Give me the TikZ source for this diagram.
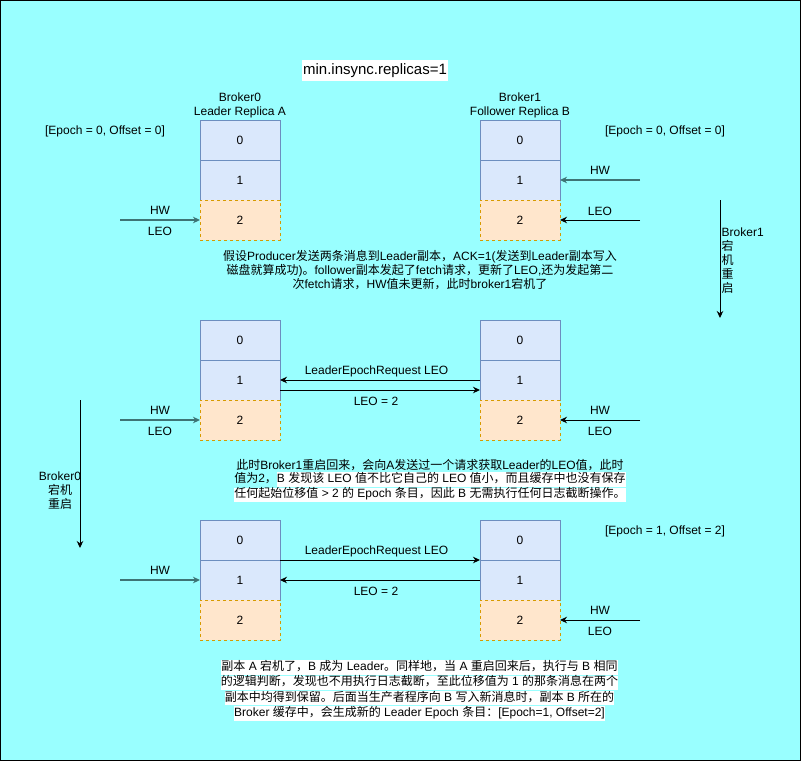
\documentclass[tikz,border=0pt]{standalone}
\usepackage{fontspec}
\setmainfont{Liberation Sans}
\newfontfamily\cjk{Noto Sans CJK SC}
\usepackage{xcolor}
\usetikzlibrary{arrows.meta}

\definecolor{bgcyan}{HTML}{99FFFF}
\definecolor{cellblue}{HTML}{DAE8FC}
\definecolor{cellblueline}{HTML}{6C8EBF}
\definecolor{cellorange}{HTML}{FFE6CC}
\definecolor{cellorangeline}{HTML}{D79B00}
\definecolor{hwteal}{HTML}{3E7475}

% Chinese runs are set in the CJK font, the rest in Liberation Sans
\XeTeXinterchartokenstate=1
\newXeTeXintercharclass\cjkclass
\newcount\cjkcnt
\def\cjkrange#1#2{\cjkcnt=#1 \loop\XeTeXcharclass\cjkcnt=\cjkclass
  \advance\cjkcnt by 1 \ifnum\cjkcnt<#2 \repeat}
\cjkrange{"3000}{"3040}
\cjkrange{"4E00}{"A000}
\cjkrange{"FF00}{"FFF0}
\XeTeXinterchartoks 0 \cjkclass = {\cjk}
\XeTeXinterchartoks 4095 \cjkclass = {\cjk}
\XeTeXinterchartoks \cjkclass 0 = {\rmfamily}
\XeTeXinterchartoks \cjkclass 4095 = {\rmfamily}

\newcommand\hl[1]{{\setlength\fboxsep{0pt}\colorbox{white}{\strut #1}}}

\begin{document}
\begin{tikzpicture}[x=1pt,y=-1pt,
    font=\fontsize{12}{14}\selectfont,
    >={Stealth[length=7pt,width=6.5pt]},
    cell/.style={draw=cellblueline, fill=cellblue, minimum width=80pt, minimum height=40pt, inner sep=0pt, outer sep=0pt},
    newcell/.style={draw=cellorangeline, fill=cellorange, dash pattern=on 3pt off 3pt, minimum width=80pt, minimum height=40pt, inner sep=0pt, outer sep=0pt},
    hwline/.style={draw=hwteal, line width=1.2pt, ->},
    leoline/.style={draw=black, line width=1pt, ->},
    note/.style={align=center, inner sep=0pt}]
    \fill[bgcyan] (0,0) rectangle (801,761);
    \draw[line width=1pt] (0.5,0.5) rectangle (800.5,760.5);
    \useasboundingbox (0,0) rectangle (801,761);

    \node[fill=white, inner sep=1pt, minimum height=21pt, font=\fontsize{15}{18}\selectfont] (minisr) at (375,70.5) {min.insync.replicas=1};

    \node[note] (titleA) at (240,105) {Broker0\\Leader Replica A};
    \node[note] (titleB) at (520,105) {Broker1\\Follower Replica B};
    \node (epochA) at (105,131) {[Epoch = 0, Offset = 0]};
    \node (epochB) at (665,131) {[Epoch = 0, Offset = 0]};

    % before broker1 goes down
    \node[cell] (a10) at (240,140) {0};
    \node[cell] (a11) at (240,180) {1};
    \node[newcell] (a12) at (240,220) {2};
    \node[cell] (b10) at (520,140) {0};
    \node[cell] (b11) at (520,180) {1};
    \node[newcell] (b12) at (520,220) {2};

    \coordinate (hwA1) at (120,220);
    \coordinate (hwB1) at (640,180);
    \coordinate (leoB1) at (640,220);
    \draw[hwline] (hwA1) -- (a12.west) node[midway,yshift=10pt]{HW} node[midway,yshift=-11pt]{LEO};
    \draw[hwline] (hwB1) -- (b11.east) node[midway,yshift=10pt]{HW};
    \draw[leoline] (leoB1) -- (b12.east) node[midway,yshift=9pt]{LEO};

    \coordinate (downB1s) at (720,200);
    \coordinate (downB1e) at (720,318);
    \draw[leoline] (downB1s) -- (downB1e);
    \node[align=left, anchor=west, inner sep=0pt] (downB1txt) at (721.5,261) {Broker1\\宕\\机\\重\\启};

    \node[note] (story1) at (420,270) {假设Producer发送两条消息到Leader副本，ACK=1(发送到Leader副本写入\\
      磁盘就算成功)。follower副本发起了fetch请求，更新了LEO,还为发起第二\\
      次fetch请求，HW值未更新，此时broker1宕机了};

    % broker1 back again
    \node[cell] (a20) at (240,340) {0};
    \node[cell] (a21) at (240,380) {1};
    \node[newcell] (a22) at (240,420) {2};
    \node[cell] (b20) at (520,340) {0};
    \node[cell] (b21) at (520,380) {1};
    \node[newcell] (b22) at (520,420) {2};

    \draw[leoline] (b21.west) -- (a21.east) node[midway,yshift=9pt,xshift=-3.5pt]{LeaderEpochRequest LEO};
    \draw[leoline] ([yshift=-10pt]a21.east) -- ([yshift=-10pt]b21.west) node[midway,yshift=-11pt,xshift=-4pt]{LEO = 2};

    \coordinate (hwA2) at (120,420);
    \coordinate (hwB2) at (640,420);
    \draw[hwline] (hwA2) -- (a22.west) node[midway,yshift=10pt]{HW} node[midway,yshift=-11pt]{LEO};
    \draw[leoline] (hwB2) -- (b22.east) node[midway,yshift=10pt]{HW} node[midway,yshift=-11pt]{LEO};

    \coordinate (downA0s) at (80,400);
    \coordinate (downA0e) at (80,548);
    \draw[leoline] (downA0s) -- (downA0e);
    \node[note] (downA0txt) at (60,491) {Broker0\\宕机\\重启};

    \node[note, font=\fontsize{12}{13.3}\selectfont] (story2) at (430,480.5) {此时Broker1重启回来，会向A发送过一个请求获取Leader的LEO值，此时\\
      值为2，\hl{B 发现该 LEO 值不比它自己的 LEO 值小，而且缓存中也没有保存}\\
      \hl{任何起始位移值 > 2 的 Epoch 条目，因此 B 无需执行任何日志截断操作。}};

    % broker0 down, B is leader
    \node[cell] (a30) at (240,540) {0};
    \node[cell] (a31) at (240,580) {1};
    \node[newcell] (a32) at (240,620) {2};
    \node[cell] (b30) at (520,540) {0};
    \node[cell] (b31) at (520,580) {1};
    \node[newcell] (b32) at (520,620) {2};
    \node (epochB3) at (665,531) {[Epoch = 1, Offset = 2]};

    \draw[leoline] (a30.south east) -- (b30.south west) node[midway,yshift=9pt,xshift=-3.5pt]{LeaderEpochRequest LEO};
    \draw[leoline] (b31.west) -- (a31.east) node[midway,yshift=-11pt,xshift=-4pt]{LEO = 2};

    \coordinate (hwA3) at (120,580);
    \coordinate (hwB3) at (640,620);
    \draw[hwline] (hwA3) -- (a31.west) node[midway,yshift=10pt]{HW};
    \draw[leoline] (hwB3) -- (b32.east) node[midway,yshift=10pt]{HW} node[midway,yshift=-11pt]{LEO};

    \node[note, font=\fontsize{12}{13.8}\selectfont] (story3) at (419.5,690.5) {\hl{副本 A 宕机了，B 成为 Leader。同样地，当 A 重启回来后，执行与 B 相同}\\
      \hl{的逻辑判断，发现也不用执行日志截断，至此位移值为 1 的那条消息在两个}\\
      \hl{副本中均得到保留。后面当生产者程序向 B 写入新消息时，副本 B 所在的}\\
      \hl{Broker 缓存中，会生成新的 Leader Epoch 条目：[Epoch=1, Offset=2]}};
  \end{tikzpicture}
\end{document}
